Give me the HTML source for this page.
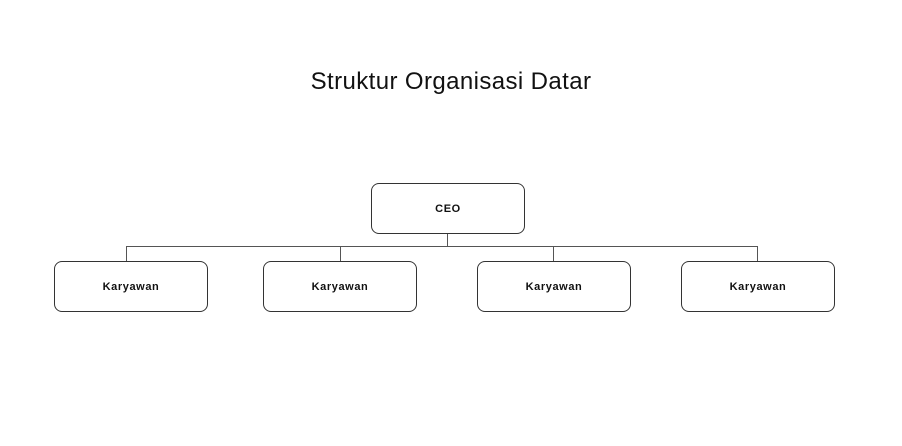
<!DOCTYPE html>
<html><head><style>
body{margin:0;width:902px;height:446px;background:#fff;overflow:hidden;position:relative;font-family:"Liberation Sans",sans-serif}
.t{position:absolute;left:0;width:902px;top:68px;text-align:center;font-size:24px;letter-spacing:0.4px;color:#111}
.b{position:absolute;width:152px;height:49px;border:1.3px solid #333;border-radius:8px;display:flex;align-items:center;justify-content:center;font-weight:bold;font-size:11px;letter-spacing:0.6px;color:#111;box-sizing:border-box}
.l{position:absolute;background:#555}
</style></head><body>
<div class="t">Struktur Organisasi Datar</div>
<div class="b" style="left:371px;top:183px;width:154px;height:51px">CEO</div>
<div class="l" style="left:447px;top:234px;width:1px;height:12px"></div>
<div class="l" style="left:126px;top:246px;width:632px;height:1px"></div>
<div class="l" style="left:126px;top:246px;width:1px;height:15px"></div>
<div class="l" style="left:340px;top:246px;width:1px;height:15px"></div>
<div class="l" style="left:553px;top:246px;width:1px;height:15px"></div>
<div class="l" style="left:757px;top:246px;width:1px;height:15px"></div>
<div class="b" style="left:54px;top:261px;width:154px;height:51px">Karyawan</div>
<div class="b" style="left:263px;top:261px;width:154px;height:51px">Karyawan</div>
<div class="b" style="left:477px;top:261px;width:154px;height:51px">Karyawan</div>
<div class="b" style="left:681px;top:261px;width:154px;height:51px">Karyawan</div>
</body></html>
